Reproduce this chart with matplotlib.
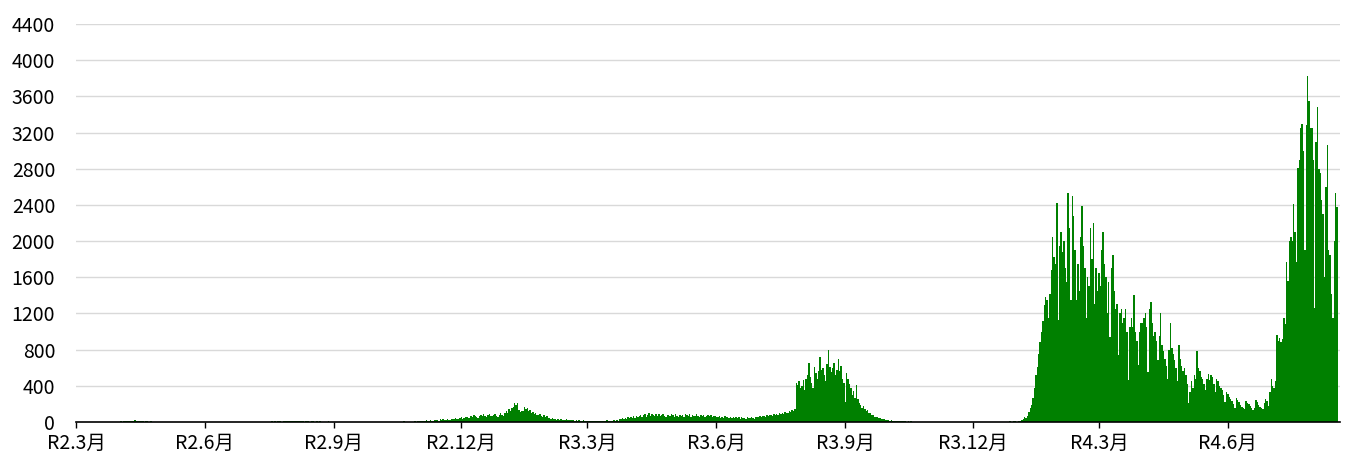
import numpy as np
import matplotlib
matplotlib.use("Agg")
import matplotlib.pyplot as plt
import matplotlib.dates as mdates

plt.rcParams['font.family'] = ['Noto Sans CJK JP', 'DejaVu Sans']

# daily new cases, one list per month
r2_03 = [0,0,0,0,0,0,0,1,2,0,1,0,0,0,0,0,0,1,0,0,0,0,1,0,2,1,3,0,2,4,1]
r2_04 = [5,8,3,10,6,12,9,15,11,7,14,18,9,6,12,16,10,8,5,11,7,4,6,9,5,3,2,4,1,2]
r2_05 = [2,1,0,3,1,0,1,0,0,2,0,1,0,0,0,1,0,0,0,0,0,0,0,0,0,0,0,0,0,0,0]
r2_06 = [0,0,0,0,0,0,0,0,0,0,0,0,0,0,0,0,0,1,0,0,0,0,0,0,0,1,0,0,0,0]
r2_07 = [0,0,0,0,0,0,0,0,1,0,0,0,0,2,1,3,4,2,6,5,8,4,6,9,7,5,10,8,12,6,9]
r2_08 = [11,8,14,10,7,12,9,6,8,10,5,7,9,11,4,6,8,3,5,7,4,6,3,5,2,4,3,6,2,3,1]
r2_09 = [2,1,3,0,2,1,0,1,2,0,1,3,0,1,0,2,1,0,0,1,0,2,0,1,0,0,3,1,0,1]
r2_10 = [0,1,2,0,1,3,2,0,1,2,4,1,0,2,3,1,5,2,1,3,6,2,4,1,3,5,2,4,6,3,8]
r2_11 = [10,6,12,15,9,18,14,11,20,16,13,22,25,18,15,28,24,30,21,27,35,26,19,33,38,29,42,36,31,45]
r2_12 = [52,38,47,60,55,41,49,68,58,72,63,50,45,70,77,62,85,66,58,74,90,71,64,80,88,69,57,75,95,82,70]
r3_01 = [105,120,98,140,125,155,170,215,190,205,130,110,125,118,165,140,150,120,135,105,110,88,95,80,72,85,68,60,75,58,62]
r3_02 = [48,40,35,42,30,38,27,33,25,29,22,26,20,31,18,24,21,17,23,15,19,14,20,16,12,18,13,15]
r3_03 = [12,10,14,9,16,11,8,13,15,10,12,9,14,11,17,13,10,15,12,18,14,20,16,35,28,40,33,45,38,50,42]
r3_04 = [55,48,62,45,70,58,66,80,52,75,88,60,72,95,68,83,77,62,90,70,85,64,78,92,69,58,81,73,66,87]
r3_05 = [74,60,88,70,55,82,68,76,59,90,72,64,85,57,79,69,62,84,71,58,76,65,80,53,68,74,61,77,56,70,63]
r3_06 = [60,52,66,48,58,45,62,50,55,42,60,47,53,40,57,44,50,38,55,42,48,36,52,45,40,58,46,38,50,55]
r3_07 = [58,62,50,70,65,55,75,68,80,72,66,85,78,90,82,95,88,100,92,110,105,98,120,112,130,125,140,430,410,450,380]
r3_08 = [400,460,350,480,520,650,500,430,380,610,540,470,560,720,580,600,520,450,640,800,610,550,600,650,520,580,700,560,620,470,430]
r3_09 = [220,540,470,420,380,300,340,260,410,250,210,190,160,175,140,120,130,95,100,80,75,60,55,50,45,40,38,32,30,25]
r3_10 = [22,18,15,20,12,14,10,11,8,9,7,10,6,8,5,7,4,6,3,5,4,3,2,4,3,2,1,3,2,1,2]
r3_11 = [1,0,2,1,0,1,0,0,1,2,0,1,0,0,1,0,0,2,0,1,0,0,1,0,0,0,1,0,0,1]
r3_12 = [0,0,1,0,0,2,0,1,0,0,1,0,0,0,1,2,0,1,0,3,1,2,4,3,5,2,6,8,5,10,12]
r4_01 = [3,5,8,12,20,35,50,45,70,110,150,190,260,380,520,610,750,880,1000,1120,1290,1380,1350,1150,1420,1680,2050,1820,1750,2420,1130]
r4_02 = [1950,2100,1880,2000,1700,1550,2530,2150,1350,2500,2280,1900,1350,1750,1450,2050,2390,1950,1700,1150,1600,1500,2150,1800,2200,1300,1700,1450]
r4_03 = [1650,1500,1900,2100,1750,1600,1200,1550,940,1700,1850,1450,1250,1300,740,1200,1250,1100,1150,1250,1000,460,1050,1150,1050,1400,1000,900,630,1000,1100]
r4_04 = [1100,1150,1200,1050,550,1250,1330,1100,950,1000,900,690,950,1210,850,780,700,620,480,800,1090,820,750,680,600,450,850,700,620,560]
r4_05 = [600,520,420,210,330,450,380,520,480,780,600,560,500,470,420,350,480,530,460,520,500,420,330,480,450,400,380,350,300,220,330]
r4_06 = [310,280,250,230,200,160,270,240,220,190,170,150,140,230,210,200,180,160,130,150,240,220,190,170,150,140,210,250,230,180]
r4_07 = [330,470,400,380,450,960,900,930,880,920,1150,1080,1770,1560,2000,2050,2000,2410,2100,1770,2810,2900,3250,3300,3000,1900,3280,3830,3550,3250,3250]
r4_08 = [2900,1260,3100,3480,2800,2750,2450,2300,1600,2600,3060,1900,1850,1420,1150,2000,2530,2380]

months = [r2_03, r2_04, r2_05, r2_06, r2_07, r2_08, r2_09, r2_10, r2_11, r2_12,
          r3_01, r3_02, r3_03, r3_04, r3_05, r3_06, r3_07, r3_08, r3_09, r3_10, r3_11, r3_12,
          r4_01, r4_02, r4_03, r4_04, r4_05, r4_06, r4_07, r4_08]
cases = np.concatenate(months)
start = np.datetime64('2020-03-01')
days = start + np.arange(len(cases))

tick_dates = ['2020-03-01', '2020-06-01', '2020-09-01', '2020-12-01', '2021-03-01',
              '2021-06-01', '2021-09-01', '2021-12-01', '2022-03-01', '2022-06-01']
tick_labels = ['R2.3月', 'R2.6月', 'R2.9月', 'R2.12月', 'R3.3月',
               'R3.6月', 'R3.9月', 'R3.12月', 'R4.3月', 'R4.6月']

fig = plt.figure(figsize=(13.53, 4.67), dpi=100)
ax = fig.add_axes([76/1353, 45/467, (1340-76)/1353, (422-24)/467])

ax.bar(mdates.date2num(days), cases, width=1.0, color='#008000', linewidth=0,
       antialiased=False, zorder=2)

ax.set_ylim(0, 4400)
ax.set_yticks(np.arange(0, 4401, 400))
ax.set_xlim(mdates.date2num(start), mdates.date2num(start + 902))
ax.set_xticks(mdates.date2num(np.array(tick_dates, dtype='datetime64[D]')))
ax.set_xticklabels(tick_labels)

ax.grid(axis='y', color='#d9d9d9', linewidth=1, zorder=0)
ax.set_axisbelow(True)
for s in ['top', 'right', 'left']:
    ax.spines[s].set_visible(False)
ax.spines['bottom'].set_color('black')
ax.spines['bottom'].set_linewidth(1.2)
ax.spines['bottom'].set_zorder(3)

ax.tick_params(axis='y', length=0, pad=15, labelsize=14)
ax.tick_params(axis='x', length=4.5, width=1, direction='out', pad=3, labelsize=14)

fig.savefig('out.png', dpi=100)
